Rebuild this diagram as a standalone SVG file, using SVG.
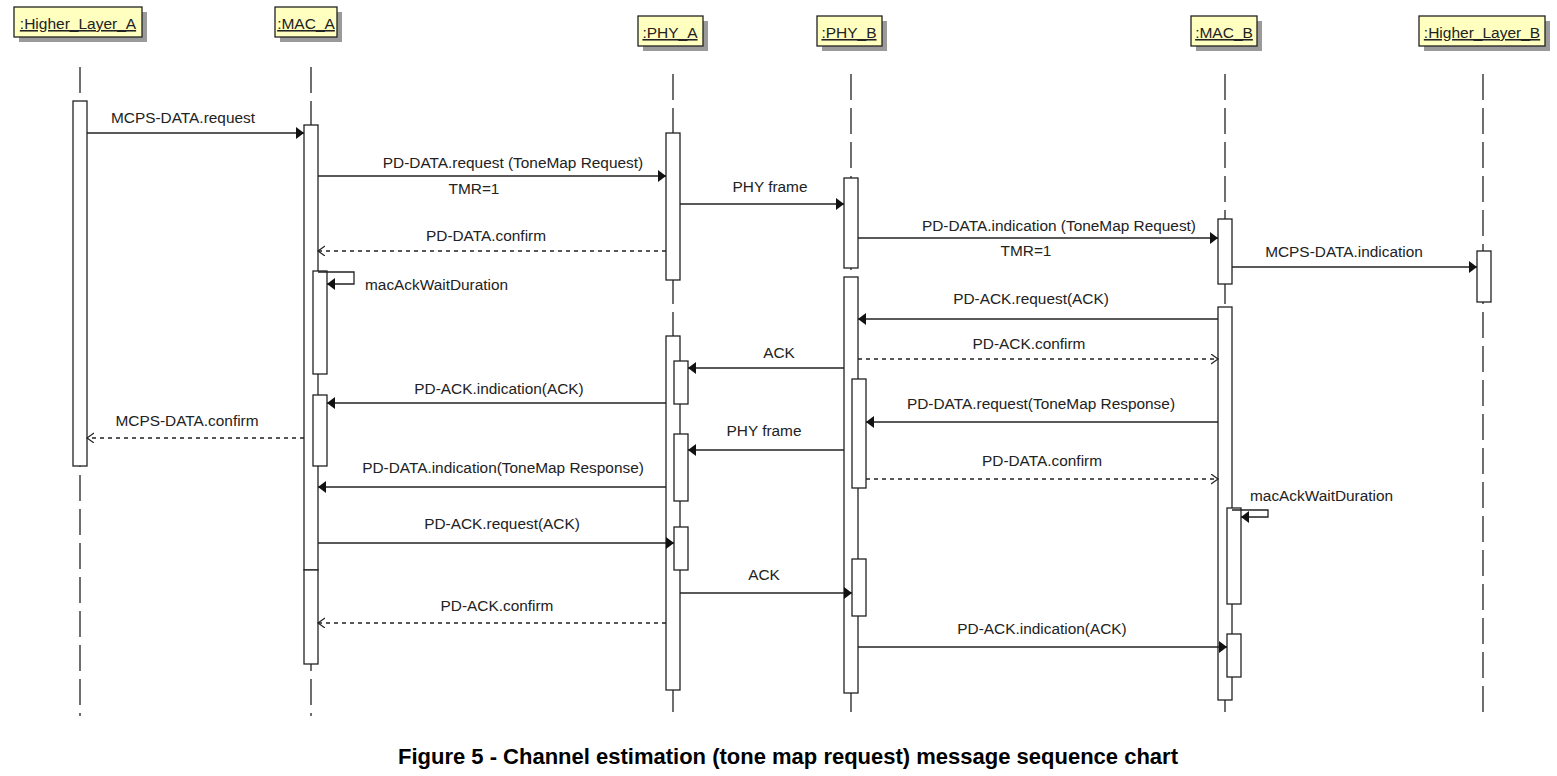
<svg xmlns="http://www.w3.org/2000/svg" width="1557" height="776" viewBox="0 0 1557 776">
<style>
.hdr{fill:#ffffc0;stroke:#222;stroke-width:1.3}
.sh{fill:#9a9a9a}
.ht{font-family:"Liberation Sans",Arial,sans-serif;font-size:15.5px;fill:#222;text-decoration:underline;text-anchor:middle}
.life{stroke:#222;stroke-width:1.3;stroke-dasharray:26,8;fill:none}
.act{fill:#fff;stroke:#222;stroke-width:1.3}
.msg{stroke:#222;stroke-width:1.3;fill:none;marker-end:url(#fa)}
.ret{stroke:#222;stroke-width:1.3;fill:none;stroke-dasharray:4,4;marker-end:url(#oa)}
.lb{font-family:"Liberation Sans",Arial,sans-serif;font-size:15.4px;fill:#222;text-anchor:middle}
.ls{font-family:"Liberation Sans",Arial,sans-serif;font-size:15.4px;fill:#222}
.cap{font-family:"Liberation Sans",Arial,sans-serif;font-size:22px;font-weight:bold;fill:#000;text-anchor:middle}
</style>
<defs>
<marker id="fa" markerUnits="userSpaceOnUse" markerWidth="10" markerHeight="14" refX="8" refY="6" orient="auto">
<path d="M0,0 L8,6 L0,12 z" fill="#111"/>
</marker>
<marker id="oa" markerUnits="userSpaceOnUse" markerWidth="10" markerHeight="12" refX="7" refY="5" orient="auto">
<path d="M0,0 L7,5 L0,10" fill="none" stroke="#222" stroke-width="1.2"/>
</marker>
</defs>
<rect width="1557" height="776" fill="#fff"/>

<g id="lifelines">
<line class="life" x1="80" y1="67" x2="80" y2="716"/>
<line class="life" x1="311" y1="67" x2="311" y2="716"/>
<line class="life" x1="673" y1="74" x2="673" y2="716"/>
<line class="life" x1="851" y1="74" x2="851" y2="716"/>
<line class="life" x1="1225" y1="74" x2="1225" y2="716"/>
<line class="life" x1="1483" y1="74" x2="1483" y2="716"/>
</g>

<g id="Higher_Layer_A">
<rect class="sh" x="19" y="12" width="128" height="30"/>
<rect class="hdr" x="14" y="7" width="128" height="30"/>
<text class="ht" x="78" y="29">:Higher_Layer_A</text>
<rect class="act" x="73" y="101" width="14" height="365"/>
</g>
<g id="MAC_A">
<rect class="sh" x="280" y="12" width="62" height="30"/>
<rect class="hdr" x="275" y="7" width="62" height="30"/>
<text class="ht" x="306" y="29">:MAC_A</text>
<rect class="act" x="304" y="125" width="14" height="445"/>
<rect class="act" x="304" y="570" width="14" height="94"/>
<rect class="act" x="313" y="271" width="14" height="103"/>
<rect class="act" x="313" y="395" width="14" height="71"/>
</g>
<g id="PHY_A">
<rect class="sh" x="643" y="21" width="65" height="30"/>
<rect class="hdr" x="638" y="16" width="65" height="30"/>
<text class="ht" x="670" y="38">:PHY_A</text>
<rect class="act" x="666" y="133" width="14" height="147"/>
<rect class="act" x="666" y="336" width="14" height="354"/>
<rect class="act" x="674" y="361" width="14" height="43"/>
<rect class="act" x="674" y="434" width="14" height="67"/>
<rect class="act" x="674" y="527" width="14" height="43"/>
</g>
<g id="PHY_B">
<rect class="sh" x="822" y="21" width="65" height="30"/>
<rect class="hdr" x="817" y="16" width="65" height="30"/>
<text class="ht" x="849" y="38">:PHY_B</text>
<rect class="act" x="844" y="178" width="14" height="90"/>
<rect class="act" x="844" y="277" width="14" height="416"/>
<rect class="act" x="852" y="379" width="14" height="109"/>
<rect class="act" x="852" y="559" width="14" height="57"/>
</g>
<g id="MAC_B">
<rect class="sh" x="1196" y="21" width="66" height="30"/>
<rect class="hdr" x="1191" y="16" width="66" height="30"/>
<text class="ht" x="1224" y="38">:MAC_B</text>
<rect class="act" x="1218" y="219" width="14" height="65"/>
<rect class="act" x="1218" y="307" width="14" height="393"/>
<rect class="act" x="1227" y="508" width="14" height="96"/>
<rect class="act" x="1227" y="634" width="14" height="43"/>
</g>
<g id="Higher_Layer_B">
<rect class="sh" x="1424" y="21" width="126" height="30"/>
<rect class="hdr" x="1419" y="16" width="126" height="30"/>
<text class="ht" x="1482" y="38">:Higher_Layer_B</text>
<rect class="act" x="1477" y="251" width="14" height="51"/>
</g>

<g id="connectors">
<line class="msg" x1="87" y1="133" x2="304" y2="133"/>
<line class="msg" x1="318" y1="176" x2="666" y2="176"/>
<line class="msg" x1="680" y1="204" x2="844" y2="204"/>
<line class="ret" x1="666" y1="251" x2="318" y2="251"/>
<line class="msg" x1="858" y1="238" x2="1218" y2="238"/>
<line class="msg" x1="1232" y1="267" x2="1477" y2="267"/>
<path class="msg" d="M318,272 H354 V284 H327"/>
<line class="msg" x1="1218" y1="319" x2="858" y2="319"/>
<line class="ret" x1="858" y1="359" x2="1218" y2="359"/>
<line class="msg" x1="844" y1="368" x2="688" y2="368"/>
<line class="msg" x1="666" y1="403" x2="327" y2="403"/>
<line class="msg" x1="1218" y1="422" x2="866" y2="422"/>
<line class="ret" x1="304" y1="438" x2="87" y2="438"/>
<line class="msg" x1="844" y1="450" x2="688" y2="450"/>
<line class="msg" x1="666" y1="487" x2="318" y2="487"/>
<line class="ret" x1="866" y1="479" x2="1218" y2="479"/>
<path class="msg" d="M1232,510 H1268 V517 H1241"/>
<line class="msg" x1="318" y1="543" x2="674" y2="543"/>
<line class="msg" x1="680" y1="593" x2="852" y2="593"/>
<line class="ret" x1="666" y1="623" x2="318" y2="623"/>
<line class="msg" x1="858" y1="647" x2="1227" y2="647"/>
</g>

<g id="labels">
<text class="lb" x="183" y="123">MCPS-DATA.request</text>
<text class="lb" x="513" y="168">PD-DATA.request (ToneMap Request)</text>
<text class="lb" x="474" y="194">TMR=1</text>
<text class="lb" x="770" y="192">PHY frame</text>
<text class="lb" x="486" y="241">PD-DATA.confirm</text>
<text class="lb" x="1059" y="231">PD-DATA.indication (ToneMap Request)</text>
<text class="lb" x="1026" y="256">TMR=1</text>
<text class="lb" x="1344" y="257">MCPS-DATA.indication</text>
<text class="ls" x="365" y="290">macAckWaitDuration</text>
<text class="lb" x="1031" y="304">PD-ACK.request(ACK)</text>
<text class="lb" x="1029" y="349">PD-ACK.confirm</text>
<text class="lb" x="779" y="358">ACK</text>
<text class="lb" x="499" y="394">PD-ACK.indication(ACK)</text>
<text class="lb" x="1041" y="409">PD-DATA.request(ToneMap Response)</text>
<text class="lb" x="187" y="426">MCPS-DATA.confirm</text>
<text class="lb" x="764" y="436">PHY frame</text>
<text class="lb" x="503" y="473">PD-DATA.indication(ToneMap Response)</text>
<text class="lb" x="1042" y="466">PD-DATA.confirm</text>
<text class="ls" x="1250" y="501">macAckWaitDuration</text>
<text class="lb" x="502" y="529">PD-ACK.request(ACK)</text>
<text class="lb" x="764" y="580">ACK</text>
<text class="lb" x="497" y="611">PD-ACK.confirm</text>
<text class="lb" x="1042" y="634">PD-ACK.indication(ACK)</text>
</g>

<text class="cap" x="788" y="764">Figure 5 - Channel estimation (tone map request) message sequence chart</text>
</svg>
